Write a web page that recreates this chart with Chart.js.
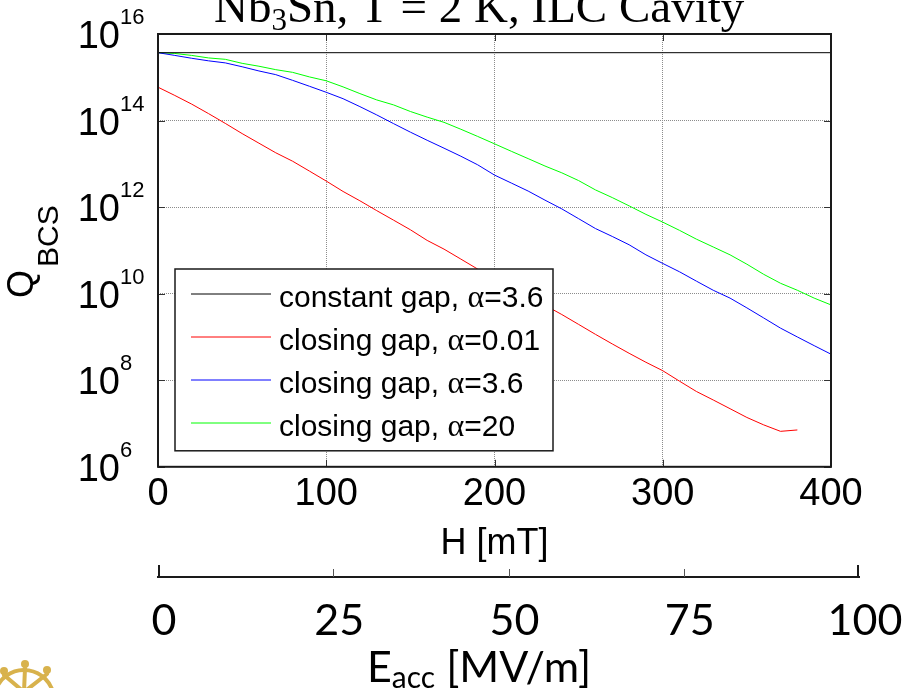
<!DOCTYPE html>
<html>
<head>
<meta charset="utf-8">
<title>Nb3Sn, T = 2 K, ILC Cavity</title>
<script src="https://cdn.jsdelivr.net/npm/chart.js@4.4.1/dist/chart.umd.min.js"></script>
<style>
  html, body { margin: 0; padding: 0; background: #fff; }
  #wrap { position: relative; width: 906px; height: 688px; overflow: hidden; }
  #mainChart { position: absolute; left: 0; top: 0; }
  #eaccChart { position: absolute; left: 0; top: 440px; }
</style>
</head>
<body>
<div id="wrap">
  <canvas id="mainChart" width="906" height="688"></canvas>
  <canvas id="eaccChart" width="906" height="248"></canvas>
</div>
<script>
// magnetic field H [mT], shared by the closing gap curves
const hField = [0, 10, 20, 30, 40, 50, 60, 70, 80, 90, 100, 110, 120, 130, 140, 150, 160, 170, 180, 190, 200,
                210, 220, 230, 240, 250, 260, 270, 280, 290, 300, 310, 320, 330, 340, 350, 360, 370, 380, 390, 400];

// constant gap, alpha = 3.6 (flat)
const constantH = [0, 400];
const qConstant = [3.7e15, 3.7e15];

// closing gap, alpha = 0.01 (ends at 380 mT)
const qAlpha001 = [5.9e14, 3.8e14, 2.4e14, 1.45e14, 8.6e13, 5.0e13, 3.0e13, 1.8e13, 1.15e13, 6.8e12, 4.0e12,
                   2.3e12, 1.4e12, 8.3e11, 5.0e11, 3.0e11, 1.7e11, 1.07e11, 6.3e10, 3.7e10, 2.3e10,
                   1.4e10, 8.7e9, 5.4e9, 3.3e9, 1.95e9, 1.15e9, 6.9e8, 4.2e8, 2.6e8, 1.66e8,
                   9.5e7, 5.5e7, 3.5e7, 2.2e7, 1.38e7, 9.3e6, 6.6e6, 7.1e6];

// closing gap, alpha = 3.6
const qAlpha36 = [3.7e15, 3.2e15, 2.75e15, 2.4e15, 2.15e15, 1.75e15, 1.4e15, 1.15e15, 8.5e14, 6.2e14, 4.5e14,
                  3.2e14, 2.1e14, 1.35e14, 8.5e13, 5.4e13, 3.5e13, 2.3e13, 1.5e13, 9.5e12, 5.5e12,
                  3.6e12, 2.35e12, 1.45e12, 9.1e11, 5.4e11, 3.2e11, 2.1e11, 1.35e11, 7.9e10, 5.0e10,
                  3.2e10, 1.95e10, 1.2e10, 7.9e9, 4.7e9, 2.75e9, 1.6e9, 1.0e9, 6.3e8, 4.0e8];

// closing gap, alpha = 20
const qAlpha20 = [3.7e15, 3.55e15, 3.2e15, 2.8e15, 2.6e15, 2.1e15, 1.8e15, 1.5e15, 1.3e15, 1.02e15, 8.3e14,
                  6.0e14, 4.2e14, 3.0e14, 2.3e14, 1.62e14, 1.2e14, 9.1e13, 6.3e13, 4.3e13, 2.9e13,
                  1.95e13, 1.32e13, 8.9e12, 6.2e12, 4.1e12, 2.5e12, 1.66e12, 1.07e12, 6.8e11, 4.5e11,
                  2.9e11, 1.82e11, 1.2e11, 7.9e10, 4.8e10, 2.8e10, 1.74e10, 1.2e10, 7.9e9, 5.5e9];

// axis ticks
const hTicks = [0, 100, 200, 300, 400];
const qTickPowers = [6, 8, 10, 12, 14, 16];
const eaccTicks = [0, 25, 50, 75, 100];

const SANS = '"Liberation Sans", Arial, sans-serif';
const SERIF = '"Liberation Serif", "Times New Roman", serif';

function toPoints(xs, ys) {
    return ys.map((y, i) => ({ x: xs[i], y }));
}

function line(ctx, x1, y1, x2, y2) {
    ctx.beginPath();
    ctx.moveTo(x1, y1);
    ctx.lineTo(x2, y2);
    ctx.stroke();
}

// frame, inner ticks, y labels, title and the boxed legend (MATLAB look)
const mainDecor = {
    id: 'mainDecor',
    afterDraw(chart) {
        const { ctx, chartArea: ca, scales: { x, y } } = chart;
        ctx.save();

        // legend box
        const lx = ca.left + 17, ly = ca.top + 235;
        const lw = 378, lh = ca.bottom - 16 - ly;
        ctx.fillStyle = '#fff';
        ctx.fillRect(lx, ly, lw, lh);
        ctx.strokeStyle = '#1a1a1a';
        ctx.lineWidth = 1.5;
        ctx.strokeRect(lx, ly, lw, lh);
        chart.data.datasets.forEach((ds, i) => {
            const ry = Math.round(ly + 25 + i * 42.9);
            ctx.strokeStyle = ds.borderColor;
            ctx.lineWidth = 1;
            line(ctx, lx + 16, ry, lx + 96, ry);
            const [pre, post] = ds.label.split('α');
            ctx.fillStyle = '#000';
            ctx.textAlign = 'left';
            ctx.textBaseline = 'alphabetic';
            let tx = lx + 104;
            ctx.font = '30px ' + SANS;
            ctx.fillText(pre, tx, ry + 13);
            tx += ctx.measureText(pre).width;
            ctx.font = '32px ' + SERIF;
            ctx.fillText('α', tx, ry + 13);
            tx += ctx.measureText('α').width;
            ctx.font = '30px ' + SANS;
            ctx.fillText(post, tx, ry + 13);
        });

        // inner tick marks
        ctx.strokeStyle = '#333';
        ctx.lineWidth = 1;
        x.ticks.forEach(t => {
            const px = Math.round(x.getPixelForValue(t.value)) + 0.5;
            line(ctx, px, ca.bottom, px, ca.bottom - 7);
            line(ctx, px, ca.top, px, ca.top + 7);
        });
        y.ticks.forEach(t => {
            const py = Math.round(y.getPixelForValue(t.value)) + 0.5;
            line(ctx, ca.left, py, ca.left + 7, py);
            line(ctx, ca.right, py, ca.right - 7, py);
        });

        // frame
        ctx.strokeStyle = '#1a1a1a';
        ctx.lineWidth = 2;
        ctx.strokeRect(ca.left, ca.top, ca.right - ca.left, ca.bottom - ca.top);

        // y tick labels 10^n
        ctx.fillStyle = '#000';
        ctx.textBaseline = 'alphabetic';
        y.ticks.forEach(t => {
            const py = y.getPixelForValue(t.value);
            const exp = String(Math.round(Math.log10(t.value)));
            ctx.font = '38px ' + SANS;
            ctx.textAlign = 'right';
            ctx.fillText('10', ca.left - 38, py + 14);
            ctx.font = '22px ' + SANS;
            ctx.textAlign = 'left';
            ctx.fillText(exp, ca.left - 38, py - 10);
        });

        // y axis title Q_BCS
        ctx.save();
        ctx.translate(33, 298);
        ctx.rotate(-Math.PI / 2);
        ctx.textAlign = 'left';
        ctx.font = '36px ' + SANS;
        ctx.fillText('Q', 0, 0);
        const qw = ctx.measureText('Q').width;
        ctx.font = '30px ' + SANS;
        ctx.fillText('BCS', qw + 3, 25);
        ctx.restore();

        // chart title, partly above the page edge
        ctx.font = '47px ' + SERIF;
        ctx.textAlign = 'left';
        let tx = 214;
        ctx.fillText('Nb', tx, 22);
        tx += ctx.measureText('Nb').width;
        ctx.font = '31px ' + SERIF;
        ctx.fillText('3', tx, 30);
        tx += ctx.measureText('3').width;
        ctx.font = '47px ' + SERIF;
        ctx.fillText('Sn, T = 2 K, ILC Cavity', tx, 22);

        ctx.restore();
    }
};

const mainChart = new Chart(document.getElementById('mainChart'), {
    type: 'line',
    data: {
        datasets: [
            { label: 'constant gap, α=3.6', data: toPoints(constantH, qConstant), borderColor: '#000000' },
            { label: 'closing gap, α=0.01', data: toPoints(hField, qAlpha001), borderColor: '#ff0000' },
            { label: 'closing gap, α=3.6', data: toPoints(hField, qAlpha36), borderColor: '#0000ff' },
            { label: 'closing gap, α=20', data: toPoints(hField, qAlpha20), borderColor: '#00ff00' }
        ]
    },
    options: {
        responsive: false,
        animation: false,
        layout: { padding: { left: 158, right: 75, top: 34, bottom: 122 } },
        elements: {
            point: { radius: 0 },
            line: { borderWidth: 1, tension: 0, fill: false }
        },
        plugins: {
            legend: { display: false },
            tooltip: { enabled: false }
        },
        scales: {
            x: {
                type: 'linear',
                min: hTicks[0],
                max: hTicks[hTicks.length - 1],
                afterBuildTicks: s => { s.ticks = hTicks.map(v => ({ value: v })); },
                ticks: {
                    color: '#000',
                    font: { family: SANS, size: 38, lineHeight: 1 },
                    padding: 9,
                    maxRotation: 0,
                    autoSkip: false
                },
                grid: { color: '#8c8c8c', drawTicks: false },
                border: { display: false, dash: [1, 1] },
                title: {
                    display: true,
                    text: 'H [mT]',
                    color: '#000',
                    font: { family: SANS, size: 36 },
                    padding: { top: 0, bottom: 0 }
                }
            },
            y: {
                type: 'logarithmic',
                min: 10 ** qTickPowers[0],
                max: 10 ** qTickPowers[qTickPowers.length - 1],
                afterBuildTicks: s => { s.ticks = qTickPowers.map(p => ({ value: 10 ** p })); },
                ticks: { display: false },
                grid: { color: '#8c8c8c', drawTicks: false },
                border: { display: false, dash: [1, 1] }
            }
        }
    },
    plugins: [mainDecor]
});

// second axis: accelerating field E_acc (its canvas overlaps the main one, transparent)
const eaccDecor = {
    id: 'eaccDecor',
    afterDraw(chart) {
        const { ctx, chartArea: ca, scales: { x } } = chart;
        ctx.save();
        ctx.strokeStyle = '#555';
        ctx.lineWidth = 1;
        x.ticks.forEach((t, i) => {
            if (i === 0 || i === x.ticks.length - 1) return;
            const px = Math.round(x.getPixelForValue(t.value)) + 0.5;
            line(ctx, px, ca.bottom, px, ca.bottom - 8);
        });
        ctx.strokeStyle = '#1a1a1a';
        ctx.lineWidth = 2;
        line(ctx, ca.left + 1, ca.bottom + 1, ca.left + 1, ca.bottom - 12);
        line(ctx, ca.right - 1, ca.bottom + 1, ca.right - 1, ca.bottom - 12);

        // axis title E_acc [MV/m]
        ctx.fillStyle = '#000';
        ctx.textAlign = 'left';
        ctx.textBaseline = 'alphabetic';
        let tx = 367;
        ctx.font = '43px Lato, sans-serif';
        ctx.fillText('E', tx, 242);
        tx += ctx.measureText('E').width;
        ctx.font = '30px Lato, sans-serif';
        ctx.fillText('acc', tx, 248);
        tx += ctx.measureText('acc').width;
        ctx.font = '43px Lato, sans-serif';
        ctx.fillText(' [MV/m]', tx, 242);

        // partial gold logo in the corner
        ctx.strokeStyle = '#d8b24c';
        ctx.fillStyle = '#d8b24c';
        ctx.lineWidth = 4;
        ctx.lineCap = 'round';
        [[4, 231], [25, 224], [47, 230]].forEach(([hx, hy]) => {
            ctx.beginPath();
            ctx.arc(hx, hy, 4, 0, Math.PI * 2);
            ctx.fill();
            line(ctx, hx, hy + 4, 24, 252);
        });
        ctx.beginPath();
        ctx.arc(24, 260, 30, Math.PI * 1.05, Math.PI * 1.95);
        ctx.stroke();
        ctx.restore();
    }
};

const eaccChart = new Chart(document.getElementById('eaccChart'), {
    type: 'line',
    data: { datasets: [] },
    options: {
        responsive: false,
        animation: false,
        layout: { padding: { left: 158, right: 47, top: 0, bottom: 37 } },
        plugins: {
            legend: { display: false },
            tooltip: { enabled: false }
        },
        scales: {
            x: {
                type: 'linear',
                min: eaccTicks[0],
                max: eaccTicks[eaccTicks.length - 1],
                afterBuildTicks: s => { s.ticks = eaccTicks.map(v => ({ value: v })); },
                ticks: {
                    color: '#000',
                    font: { family: 'Lato', size: 43, lineHeight: 1 },
                    padding: 8,
                    labelOffset: 6,
                    maxRotation: 0,
                    autoSkip: false
                },
                grid: { drawOnChartArea: false, drawTicks: true, tickLength: 15, tickColor: 'rgba(0,0,0,0)' },
                border: { display: true, color: '#1a1a1a', width: 2 }
            },
            y: { display: false }
        }
    },
    plugins: [eaccDecor]
});
</script>
</body>
</html>
